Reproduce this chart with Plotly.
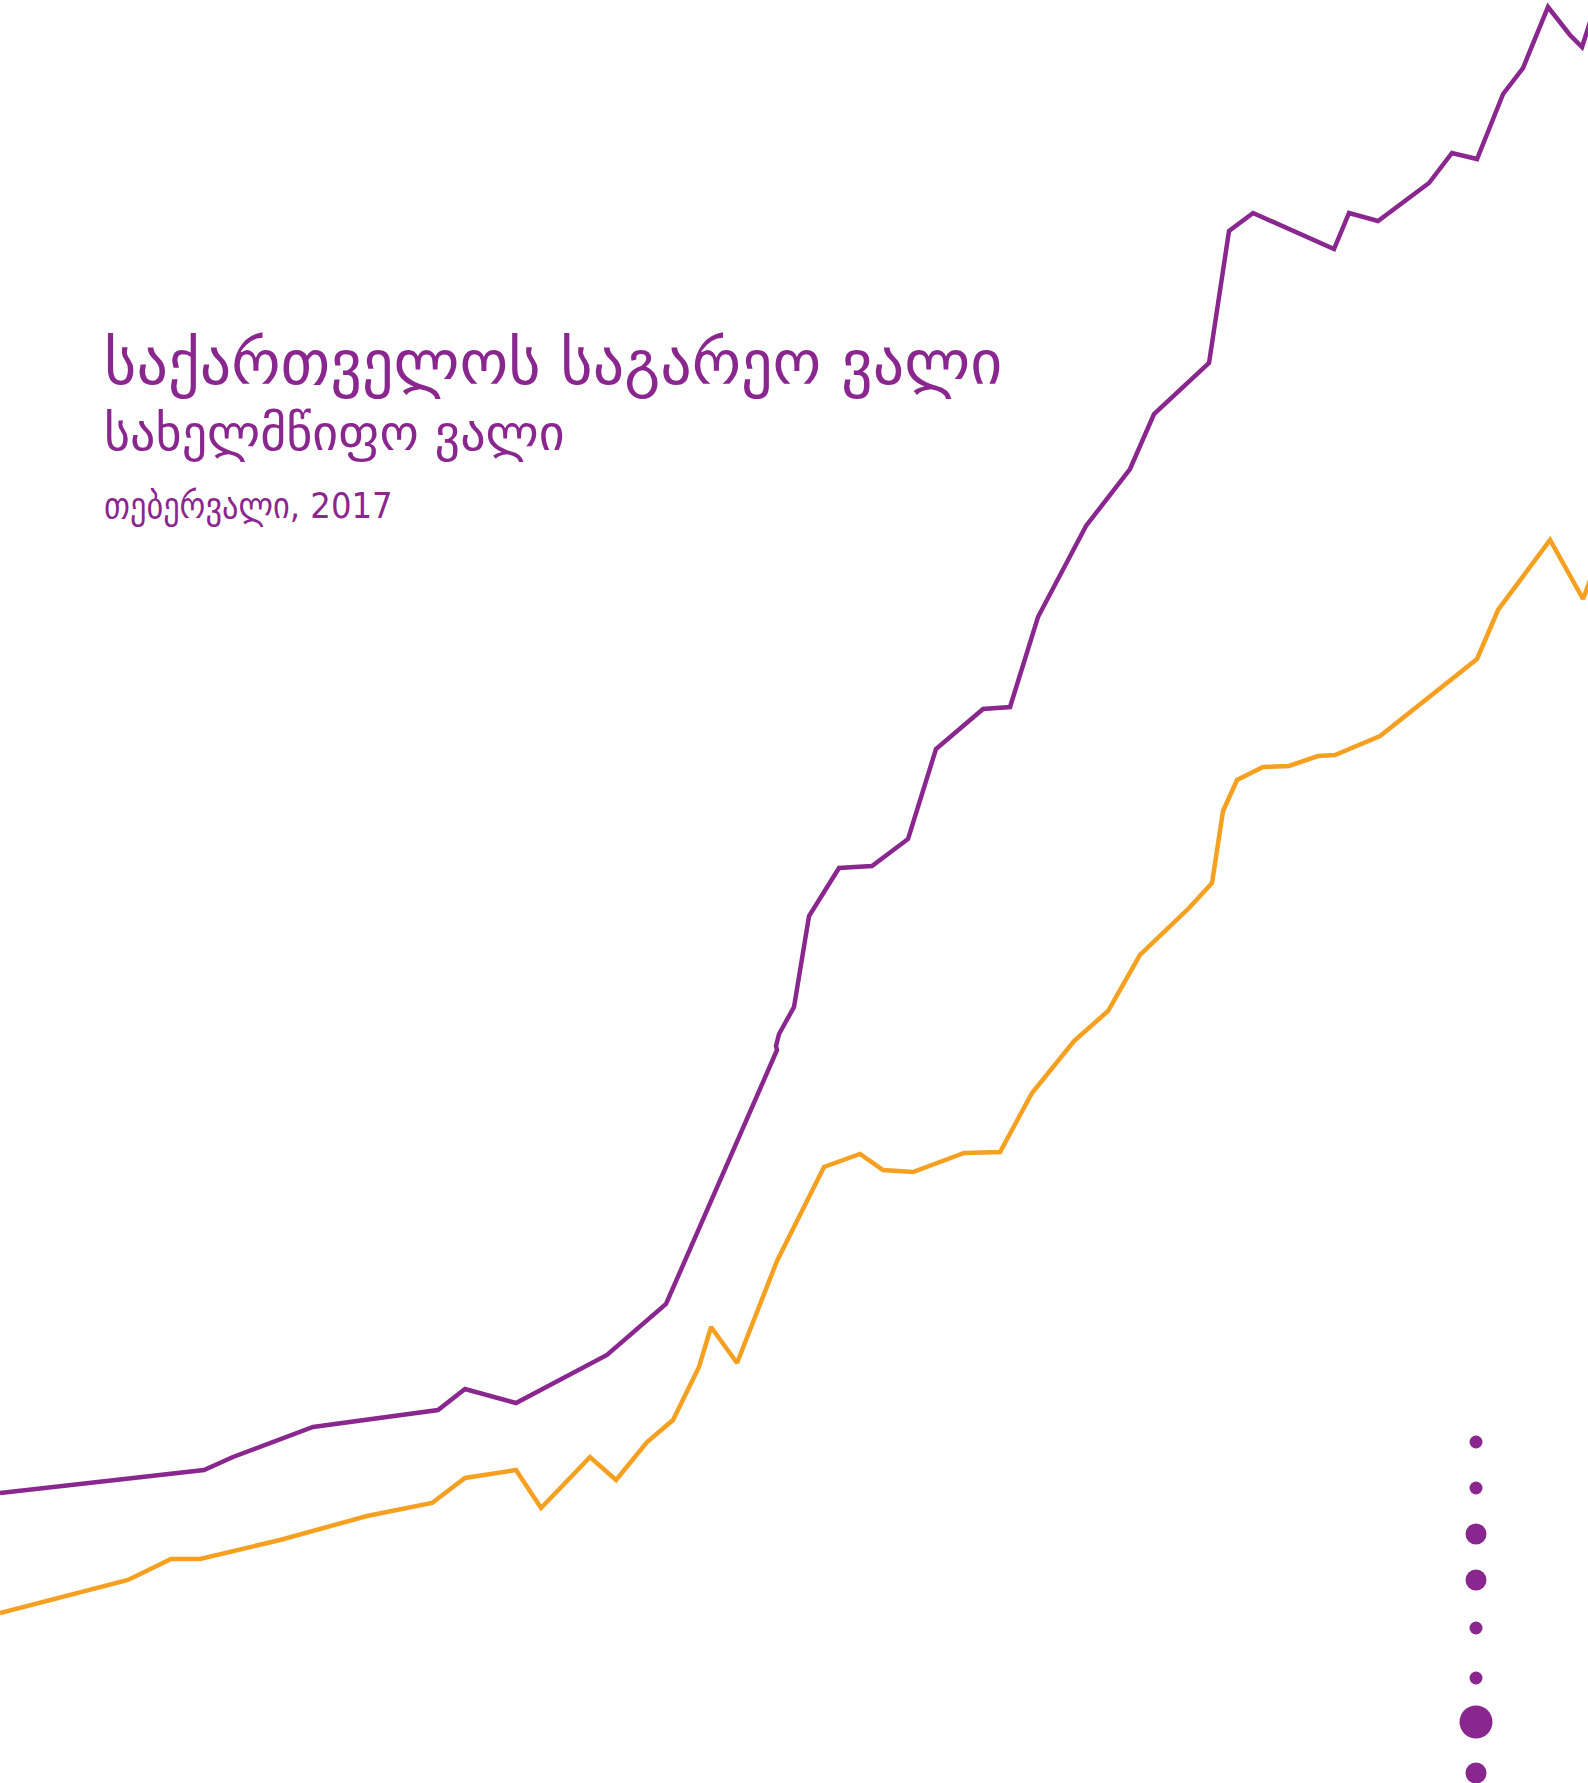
import plotly.graph_objects as go

# Time (decimal years) and values (million USD)
total_x = [2000.000, 2002.184, 2002.494, 2003.351, 2004.689, 2004.978, 2005.524, 2006.498,
           2007.130, 2008.318, 2008.307, 2008.340, 2008.500, 2008.661, 2008.982, 2009.335,
           2009.721, 2010.020, 2010.524, 2010.813, 2011.112, 2011.626, 2012.097, 2012.354,
           2012.943, 2013.157, 2013.414, 2014.281, 2014.442, 2014.752, 2015.298, 2015.544,
           2015.812, 2016.091, 2016.304, 2016.572, 2016.807, 2016.936, 2017.022]
total_debt = [2900, 3130, 3260, 3560, 3730, 3940, 3800, 4280,
              4790, 7330, 7370, 7490, 7760, 8670, 9150, 9170,
              9440, 10340, 10740, 10760, 11660, 12570, 13140, 13690,
              14200, 15520, 15700, 15340, 15700, 15620, 16000, 16300,
              16240, 16890, 17150, 17760, 17480, 17360, 17610]

public_x = [2000.000, 2001.370, 2001.831, 2002.141, 2002.998, 2003.929, 2004.625, 2004.978,
            2005.524, 2005.792, 2006.081, 2006.316, 2006.595, 2006.927, 2007.205, 2007.483,
            2007.612, 2007.890, 2008.318, 2008.821, 2009.207, 2009.453, 2009.774, 2010.320,
            2010.706, 2011.048, 2011.498, 2011.862, 2012.204, 2012.729, 2012.975, 2013.093,
            2013.243, 2013.521, 2013.800, 2014.110, 2014.292, 2014.774, 2015.812, 2016.037,
            2016.594, 2016.947, 2017.043]
public_debt = [1700, 2030, 2240, 2240, 2430, 2670, 2800, 3050,
               3130, 2750, 3030, 3260, 3030, 3410, 3630, 4160,
               4560, 4200, 5220, 6160, 6290, 6130, 6110, 6300,
               6310, 6900, 7420, 7720, 8280, 8750, 9000, 9720,
               10030, 10160, 10170, 10270, 10280, 10470, 11240, 11730,
               12430, 11840, 12080]

dot_x = [2015.801] * 8
dot_y = [3410, 2950, 2490, 2030, 1550, 1050, 610, 100]
dot_size = [13, 13, 21, 21, 13, 13, 33, 21]

title1 = "საქართველოს საგარეო ვალი"
title2 = "სახელმწიფო ვალი"
title3 = "თებერვალი, 2017"

PURPLE = "#8A278F"
ORANGE = "#F6A021"

fig = go.Figure()
fig.add_trace(go.Scatter(x=total_x, y=total_debt, mode="lines",
                         line=dict(color=PURPLE, width=4.5), hoverinfo="skip"))
fig.add_trace(go.Scatter(x=public_x, y=public_debt, mode="lines",
                         line=dict(color=ORANGE, width=4.5), hoverinfo="skip"))
fig.add_trace(go.Scatter(x=dot_x, y=dot_y, mode="markers",
                         marker=dict(color=PURPLE, size=dot_size, opacity=1, line=dict(width=0)),
                         hoverinfo="skip"))

fig.add_annotation(text=title1, x=102/1588, y=1-362/1783, xref="paper", yref="paper",
                   xanchor="left", yanchor="middle", showarrow=False,
                   font=dict(family="DejaVu Sans", size=62, color=PURPLE))
fig.add_annotation(text=title2, x=102/1588, y=1-433/1783, xref="paper", yref="paper",
                   xanchor="left", yanchor="middle", showarrow=False,
                   font=dict(family="DejaVu Sans", size=50, color=PURPLE))
fig.add_annotation(text=title3, x=102/1588, y=1-506/1783, xref="paper", yref="paper",
                   xanchor="left", yanchor="middle", showarrow=False,
                   font=dict(family="DejaVu Sans Condensed", size=36, color=PURPLE))

fig.update_layout(
    width=1588, height=1783, margin=dict(l=0, r=0, t=0, b=0),
    paper_bgcolor="white", plot_bgcolor="white", showlegend=False,
    xaxis=dict(range=[2000, 2017], visible=False, fixedrange=True),
    yaxis=dict(range=[0, 17830], visible=False, fixedrange=True),
)

fig.write_html("out.html", config={"displayModeBar": False},
               post_script="document.body.style.margin='0';document.body.style.overflow='hidden';")
